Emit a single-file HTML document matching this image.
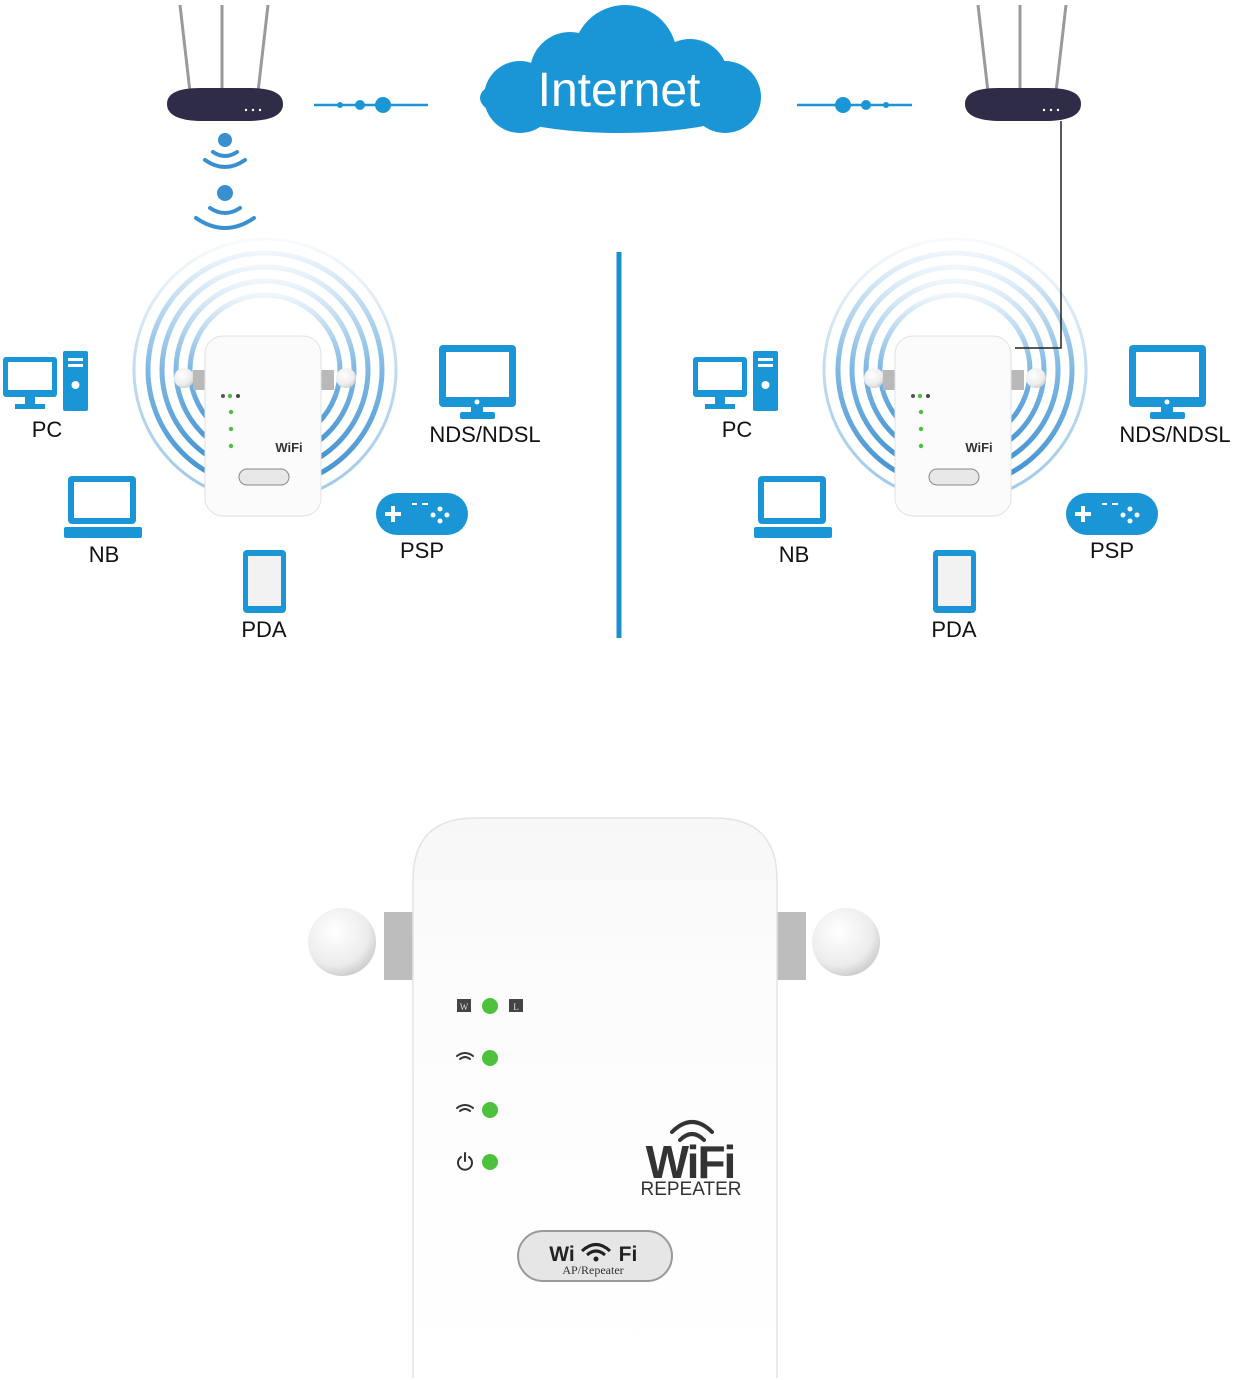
<!DOCTYPE html>
<html><head><meta charset="utf-8"><style>
html,body{margin:0;padding:0;background:#fff;}
svg{display:block;font-family:"Liberation Sans",sans-serif;}
</style></head><body>
<svg width="1239" height="1380" viewBox="0 0 1239 1380" xmlns="http://www.w3.org/2000/svg">
<defs>
<radialGradient id="ball" cx="0.4" cy="0.35" r="0.7"><stop offset="0" stop-color="#fff"/><stop offset="0.7" stop-color="#ececec"/><stop offset="1" stop-color="#c8c8c8"/></radialGradient>
<linearGradient id="body" x1="0" y1="0" x2="0" y2="1"><stop offset="0" stop-color="#f7f7f7"/><stop offset="0.3" stop-color="#fcfcfc"/><stop offset="1" stop-color="#fff"/></linearGradient>
<linearGradient id="ringfade" x1="0" y1="0" x2="0" y2="1"><stop offset="0" stop-color="#5fa6dc" stop-opacity="0.1"/><stop offset="0.5" stop-color="#5fa6dc" stop-opacity="0.8"/><stop offset="1" stop-color="#3d8fd0"/></linearGradient>
<g id="router">
  <line x1="180" y1="5" x2="190" y2="92" stroke="#9a9a9a" stroke-width="3"/>
  <line x1="222" y1="5" x2="222" y2="90" stroke="#9a9a9a" stroke-width="3"/>
  <line x1="268" y1="5" x2="258" y2="92" stroke="#9a9a9a" stroke-width="3"/>
  <path d="M167 104 Q167 88 200 88 L250 88 Q283 88 283 104 Q283 120 250 121 L200 121 Q167 120 167 104Z" fill="#2f2c48"/>
  <circle cx="246" cy="110" r="1.2" fill="#fff"/><circle cx="253" cy="110" r="1.2" fill="#fff"/><circle cx="260" cy="110" r="1.2" fill="#fff"/>
</g>
<g id="icons" fill="#1a96d6">
  <rect x="3" y="357" width="54" height="40" rx="3"/><rect x="8" y="362" width="44" height="28" fill="#fff"/>
  <rect x="25" y="397" width="10" height="7"/><rect x="15" y="404" width="30" height="5"/>
  <rect x="63" y="351" width="25" height="60" rx="2"/>
  <rect x="68" y="358" width="15" height="3" fill="#fff"/><rect x="68" y="364" width="15" height="3" fill="#fff"/>
  <circle cx="75.5" cy="385" r="4" fill="#fff"/>
  <rect x="68" y="476" width="68" height="48" rx="4"/><rect x="74" y="482" width="56" height="36" fill="#fff"/>
  <rect x="64" y="527" width="78" height="11" rx="2"/>
  <rect x="243" y="550" width="43" height="63" rx="4"/><rect x="248" y="556" width="33" height="50" fill="#f2f2f2"/>
  <rect x="376" y="493" width="92" height="42" rx="21"/>
  <rect x="385" y="512" width="16" height="4" fill="#fff"/><rect x="391" y="506" width="4" height="16" fill="#fff"/>
  <circle cx="440" cy="509" r="2.5" fill="#fff"/><circle cx="447" cy="515" r="2.5" fill="#fff"/><circle cx="440" cy="521" r="2.5" fill="#fff"/><circle cx="433" cy="515" r="2.5" fill="#fff"/>
  <rect x="412" y="503" width="5" height="2" fill="#fff"/><rect x="422" y="503" width="6" height="2" fill="#fff"/>
  <rect x="439" y="345" width="77" height="62" rx="4"/><rect x="446" y="352" width="63" height="45" fill="#fff"/>
  <circle cx="477" cy="402" r="2.5" fill="#fff"/>
  <rect x="471" y="407" width="12" height="6"/><rect x="460" y="412" width="35" height="7" rx="2"/>
</g>
<g id="rings" fill="none" stroke="url(#ringfade)">
  <circle cx="265" cy="370" r="131" stroke-width="3" opacity="0.5"/>
  <circle cx="265" cy="370" r="117" stroke-width="5"/>
  <circle cx="265" cy="370" r="103" stroke-width="5"/>
  <circle cx="265" cy="370" r="89" stroke-width="5"/>
  <circle cx="265" cy="370" r="75" stroke-width="5"/>
</g>
<g id="smalldev">
  <circle cx="184" cy="378" r="10" fill="url(#ball)"/><circle cx="346" cy="378" r="10" fill="url(#ball)"/>
  <rect x="193" y="370" width="14" height="20" fill="#b9b9b9"/><rect x="320" y="370" width="14" height="20" fill="#b9b9b9"/>
  <rect x="205" y="336" width="116" height="180" rx="18" fill="#fbfbfb" stroke="#e2e2e2"/>
  <circle cx="230" cy="396" r="2.2" fill="#4cbf3c"/><circle cx="231" cy="412" r="2.2" fill="#4cbf3c"/>
  <circle cx="231" cy="429" r="2.2" fill="#4cbf3c"/><circle cx="231" cy="446" r="2.2" fill="#4cbf3c"/>
  <circle cx="223" cy="396" r="2" fill="#555"/><circle cx="238" cy="396" r="2" fill="#444"/>
  <rect x="239" y="469" width="50" height="16" rx="8" fill="#e8e8e8" stroke="#888"/>
</g>
</defs>

<use href="#router"/>
<line x1="314" y1="105" x2="428" y2="105" stroke="#1a96d6" stroke-width="2.5"/>
<circle cx="340" cy="105" r="3" fill="#1a96d6"/><circle cx="360" cy="105" r="5" fill="#1a96d6"/><circle cx="383" cy="105" r="8" fill="#1a96d6"/>
<g fill="none" stroke="#3a8fd0" stroke-width="4" stroke-linecap="round">
  <circle cx="225" cy="140" r="7" fill="#3a8fd0" stroke="none"/>
  <path d="M213 152 Q225 160 237 152"/><path d="M205 160 Q225 174 245 160"/>
  <circle cx="225" cy="193" r="8" fill="#3a8fd0" stroke="none"/>
  <path d="M210 208 Q225 218 240 208"/><path d="M196 218 Q225 238 254 218"/>
</g>
<use href="#rings"/>
<use href="#smalldev"/>
<use href="#icons"/>
<text x="289" y="452" font-size="13" font-weight="bold" fill="#333" text-anchor="middle">WiFi</text>
<g font-size="22" fill="#111" text-anchor="middle">
<text x="47" y="437">PC</text><text x="104" y="562">NB</text><text x="264" y="637">PDA</text>
<text x="422" y="558">PSP</text><text x="485" y="442">NDS/NDSL</text>
</g>

<g fill="#1a96d6">
  <ellipse cx="620" cy="98" rx="140" ry="35"/>
  <circle cx="570" cy="72" r="40"/><circle cx="625" cy="57" r="52"/><circle cx="690" cy="77" r="38"/>
  <circle cx="520" cy="97" r="36"/><circle cx="725" cy="97" r="36"/>
</g>
<text x="619" y="106" font-size="48" fill="#fff" text-anchor="middle">Internet</text>

<line x1="619" y1="252" x2="619" y2="638" stroke="#1a8fd0" stroke-width="5"/>

<use href="#router" x="798"/>
<line x1="797" y1="105" x2="912" y2="105" stroke="#1a96d6" stroke-width="2.5"/>
<circle cx="843" cy="105" r="8" fill="#1a96d6"/><circle cx="866" cy="105" r="5" fill="#1a96d6"/><circle cx="886" cy="105" r="3" fill="#1a96d6"/>
<use href="#rings" x="690"/>
<use href="#smalldev" x="690"/>
<polyline points="1061,121 1061,348 1015,348" fill="none" stroke="#222" stroke-width="1.5"/>
<use href="#icons" x="690"/>
<text x="979" y="452" font-size="13" font-weight="bold" fill="#333" text-anchor="middle">WiFi</text>
<g font-size="22" fill="#111" text-anchor="middle">
<text x="737" y="437">PC</text><text x="794" y="562">NB</text><text x="954" y="637">PDA</text>
<text x="1112" y="558">PSP</text><text x="1175" y="442">NDS/NDSL</text>
</g>

<rect x="384" y="912" width="32" height="68" fill="#bdbdbd"/>
<rect x="774" y="912" width="32" height="68" fill="#bdbdbd"/>
<circle cx="342" cy="942" r="34" fill="url(#ball)"/>
<circle cx="846" cy="942" r="34" fill="url(#ball)"/>
<path d="M413 1378 L413 880 Q413 818 475 818 L715 818 Q777 818 777 880 L777 1378" fill="url(#body)" stroke="#e4e4e4" stroke-width="1.5"/>
<g fill="#4cc23c">
<circle cx="490" cy="1006" r="8"/><circle cx="490" cy="1058" r="8"/><circle cx="490" cy="1110" r="8"/><circle cx="490" cy="1162" r="8"/>
</g>
<rect x="457" y="999" width="14" height="13" fill="#444"/><rect x="509" y="999" width="14" height="13" fill="#444"/>
<text x="464" y="1010" font-size="9" fill="#ddd" text-anchor="middle" font-family="Liberation Serif">W</text>
<text x="516" y="1010" font-size="9" fill="#ddd" text-anchor="middle" font-family="Liberation Serif">L</text>
<g fill="none" stroke="#333" stroke-width="2" stroke-linecap="round">
  <path d="M457 1056 Q465 1050 473 1056"/><path d="M460 1059 Q465 1055 470 1059"/>
  <path d="M457 1108 Q465 1102 473 1108"/><path d="M460 1111 Q465 1107 470 1111"/>
  <path d="M461 1157 A7 7 0 1 0 469 1157"/><line x1="465" y1="1153" x2="465" y2="1161"/>
  <path d="M672 1132 Q692 1112 712 1132" stroke-width="4"/><path d="M680 1140 Q692 1128 704 1140" stroke-width="4"/>
</g>
<text x="690" y="1178" font-size="46" font-weight="bold" fill="#333" text-anchor="middle" letter-spacing="-2">WiFi</text>
<text x="691" y="1195" font-size="19" fill="#333" text-anchor="middle">REPEATER</text>
<rect x="518" y="1231" width="154" height="50" rx="25" fill="#e6e6e6" stroke="#999" stroke-width="2"/>
<text x="562" y="1261" font-size="21" font-weight="bold" fill="#222" text-anchor="middle">Wi</text>
<text x="628" y="1261" font-size="21" font-weight="bold" fill="#222" text-anchor="middle">Fi</text>
<path d="M582 1251 Q596 1238 610 1251 M587 1255 Q596 1247 605 1255" fill="none" stroke="#222" stroke-width="3"/>
<circle cx="596" cy="1259" r="2.5" fill="#222"/>
<text x="593" y="1274" font-size="12" fill="#333" text-anchor="middle" font-family="Liberation Serif">AP/Repeater</text>
</svg>
</body></html>
